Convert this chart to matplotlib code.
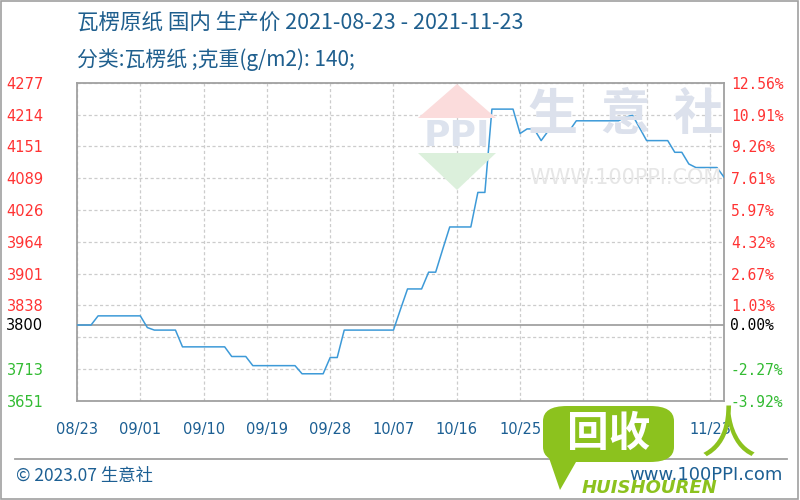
import pandas as pd
import matplotlib.pyplot as plt
from matplotlib.patches import Polygon, FancyBboxPatch
from matplotlib.transforms import blended_transform_factory

plt.rcParams['font.family'] = ['Noto Sans CJK SC', 'DejaVu Sans']

# daily producer price, 2021-08-23 .. 2021-11-23
prices = [3800, 3800, 3800,
          3818, 3818, 3818, 3818, 3818, 3818, 3818,
          3795, 3790, 3790, 3790, 3790,
          3757, 3757, 3757, 3757, 3757, 3757, 3757,
          3738, 3738, 3738,
          3720, 3720, 3720, 3720, 3720, 3720, 3720,
          3704, 3704, 3704, 3704,
          3736, 3736,
          3790, 3790, 3790, 3790, 3790, 3790, 3790, 3790,
          3831, 3871, 3871, 3871,
          3904, 3904, 3949,
          3993, 3993, 3993, 3993,
          4061, 4061,
          4225, 4225, 4225, 4225,
          4177, 4186, 4186, 4163,
          4182, 4182, 4182, 4182,
          4202, 4202, 4202, 4202, 4202, 4202, 4202,
          4209, 4213, 4188,
          4163, 4163, 4163, 4163,
          4140, 4140, 4117,
          4110, 4110, 4110, 4110, 4091]
dates = pd.date_range('2021-08-23', periods=len(prices), freq='D')

base_price = 3800
y_min, y_max = 3651, 4277
left_labels = ['3651', '3713', '', '3838', '3901', '3964', '4026', '4089', '4151', '4214', '4277']
right_labels = ['-3.92%', '-2.27%', '', '1.03%', '2.67%', '4.32%', '5.97%', '7.61%', '9.26%', '10.91%', '12.56%']
x_tick_dates = pd.date_range('2021-08-23', periods=11, freq='9D')
# 11/03 and 11/12 are hidden under the overlaid logo in the picture
x_labels = ['08/23', '09/01', '09/10', '09/19', '09/28', '10/07', '10/16', '10/25', '', '', '11/23']

RED = '#ff3333'
GREEN = '#33bb33'
BLUE_TXT = '#1c5f93'
LINE = '#3d9ad8'

fig = plt.figure(figsize=(8, 5), dpi=100)
ax = fig.add_axes([77 / 800, 1 - 400.7 / 500, (724 - 77) / 800, (400.7 - 82.7) / 500])

# watermarks (behind the line)
ppi = dict(transform=fig.transFigure, zorder=0)
fig.patches.append(Polygon([(418 / 800, 1 - 118 / 500), (496 / 800, 1 - 118 / 500), (457 / 800, 1 - 84 / 500)],
                           closed=True, fc='#fbdcdc', ec='none', **ppi))
fig.patches.append(Polygon([(418 / 800, 1 - 153 / 500), (496 / 800, 1 - 153 / 500), (457 / 800, 1 - 190 / 500)],
                           closed=True, fc='#dcf0dc', ec='none', **ppi))
fig.text(457 / 800, 1 - 136 / 500, 'PPI', color='#dde3ee', fontsize=26, fontweight='bold',
         family='DejaVu Sans', ha='center', va='center', zorder=0)
fig.text(626 / 800, 1 - 116 / 500, '生  意  社', color='#dce1ec', fontsize=36, fontweight='bold',
         ha='center', va='center', zorder=0)
fig.text(625 / 800, 1 - 178 / 500, 'WWW.100PPI.COM', color='#e6e6e6', fontsize=15,
         family='DejaVu Sans', ha='center', va='center', zorder=0)
ax.set_facecolor('none')

ax.plot(dates, prices, color=LINE, lw=1.1, zorder=3)
ax.axhline(base_price, color='#999999', lw=1.2, zorder=2)

ax.set_xlim(dates[0], dates[-1])
ax.set_ylim(y_min, y_max)
grid_vals = [y_min + i * (y_max - y_min) / 10 for i in range(11)]
ax.set_yticks(grid_vals)
ax.set_yticklabels(left_labels, family='DejaVu Sans', fontsize=10.5)
for lbl, v in zip(ax.get_yticklabels(), grid_vals):
    lbl.set_color(RED if v > base_price else GREEN)
ax.tick_params(axis='y', length=0, pad=24)
ax.set_xticks(x_tick_dates)
ax.set_xticklabels(x_labels, family='DejaVu Sans', fontsize=10.5, color=BLUE_TXT)
ax.tick_params(axis='x', length=0, pad=15)
ax.grid(True, color='#cccccc', ls=(0, (2.5, 2)), lw=0.9)
for s in ax.spines.values():
    s.set_color('#a0a0a0')
    s.set_linewidth(1.3)

trans = blended_transform_factory(fig.transFigure, ax.transData)
fig.text(43 / 800, base_price, str(base_price), transform=trans, color='black',
         family='DejaVu Sans', fontsize=10.5, va='center', ha='right')

ax2 = ax.twinx()
ax2.set_ylim(y_min, y_max)
ax2.set_yticks(grid_vals)
ax2.set_yticklabels(right_labels, family='DejaVu Sans Mono', fontsize=10.5)
for lbl, v in zip(ax2.get_yticklabels(), grid_vals):
    lbl.set_color(RED if v > base_price else GREEN)
ax2.tick_params(axis='y', length=0, pad=5)
for s in ax2.spines.values():
    s.set_visible(False)
ax2.text(730 / 800, base_price, '0.00%', transform=blended_transform_factory(fig.transFigure, ax2.transData),
         family='DejaVu Sans Mono', fontsize=10.5, color='black', va='center', ha='left')

# titles
fig.text(77 / 800, 1 - 23 / 500, '瓦楞原纸 国内 生产价 2021-08-23 - 2021-11-23',
         color='#1f5f8e', fontsize=15.5, va='center', ha='left')
fig.text(77 / 800, 1 - 60 / 500, '分类:瓦楞纸 ;克重(g/m2): 140;',
         color='#1f5f8e', fontsize=15, va='center', ha='left')

# footer
fig.add_artist(plt.Line2D([15 / 800, 787 / 800], [1 - 459 / 500, 1 - 459 / 500], color='#a0a0a0', lw=1.3))
fig.text(16 / 800, 1 - 476 / 500, '© 2023.07 生意社', color=BLUE_TXT, fontsize=12.5, va='center', ha='left')
fig.text(783 / 800, 1 - 475 / 500, 'www.100PPI.com', color=BLUE_TXT, family='DejaVu Sans',
         fontsize=13, va='center', ha='right')

# overlaid green logo
G = '#8cc21e'
fig.patches.append(FancyBboxPatch((543 / 800, 1 - 462 / 500), 131 / 800, 56 / 500,
                                  boxstyle='round,pad=0,rounding_size=0.03', fc=G, ec='none',
                                  transform=fig.transFigure, zorder=5))
fig.patches.append(Polygon([(548 / 800, 1 - 455 / 500), (580 / 800, 1 - 455 / 500), (560 / 800, 1 - 490 / 500)],
                           closed=True, fc=G, ec='none', transform=fig.transFigure, zorder=5))
fig.text(609 / 800, 1 - 434 / 500, '回收', color='white', fontsize=30, fontweight='bold',
         ha='center', va='center', zorder=6)
fig.text(728 / 800, 1 - 436 / 500, '人', color=G, fontsize=40,
         ha='center', va='center', zorder=6)
fig.text(650 / 800, 1 - 488 / 500, 'HUISHOUREN', color=G, fontsize=13, fontweight='bold',
         style='italic', family='DejaVu Sans', ha='center', va='center', zorder=6)

# outer border
fig.add_artist(plt.Rectangle((0.001, 0.002), 0.997, 0.996, fill=False, ec='#a0a0a0', lw=1.2,
                             transform=fig.transFigure))

fig.savefig('out.png', dpi=100)
